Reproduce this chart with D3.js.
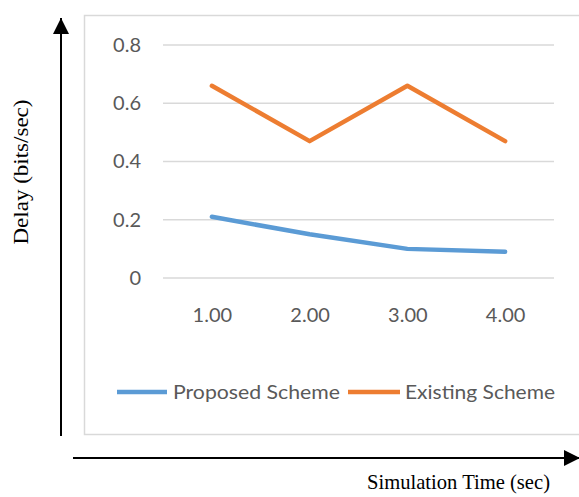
<!DOCTYPE html>
<html>
<head>
<meta charset="utf-8">
<script src="https://cdn.jsdelivr.net/npm/d3@7"></script>
<style>
  html, body { margin: 0; padding: 0; background: #fff; }
  svg { display: block; }
</style>
</head>
<body>
<svg id="chart" width="579" height="497"></svg>
<script>
// Delay over simulation time for the two schemes
const categories = ["1.00", "2.00", "3.00", "4.00"];
const proposed = [0.21, 0.15, 0.10, 0.09];
const existing = [0.66, 0.47, 0.66, 0.47];
const yTicks = [0, 0.2, 0.4, 0.6, 0.8];
const seriesNames = ["Proposed Scheme", "Existing Scheme"];
const seriesColors = ["#5B9BD5", "#ED7D31"];

const svg = d3.select("#chart");
const labelFont = "Lato, 'Open Sans', sans-serif";
const serif = "'Liberation Serif', 'DejaVu Serif', serif";

// Chart frame
svg.append("rect")
  .attr("x", 84.5).attr("y", 15.5)
  .attr("width", 520).attr("height", 419)
  .attr("fill", "#fff").attr("stroke", "#d9d9d9").attr("stroke-width", 1.5);

const plot = { left: 163, right: 554, top: 45, bottom: 278 };

const x = d3.scalePoint()
  .domain(categories)
  .range([plot.left, plot.right])
  .padding(0.5);

const y = d3.scaleLinear()
  .domain([0, 0.8])
  .range([plot.bottom, plot.top]);

// Horizontal gridlines
svg.append("g")
  .selectAll("line")
  .data(yTicks)
  .join("line")
  .attr("x1", plot.left).attr("x2", plot.right)
  .attr("y1", d => y(d)).attr("y2", d => y(d))
  .attr("stroke", "#d9d9d9").attr("stroke-width", 1.5);

// Y axis tick labels
const yAxis = svg.append("g")
  .attr("transform", `translate(${plot.left},0)`)
  .call(d3.axisLeft(y).tickValues(yTicks).tickSize(0).tickPadding(22)
    .tickFormat(d => d === 0 ? "0" : d3.format(".1f")(d)));
yAxis.select(".domain").remove();
yAxis.selectAll("text")
  .attr("fill", "#595959")
  .style("font-family", labelFont)
  .style("font-size", "20px");

// X axis tick labels
const xAxis = svg.append("g")
  .attr("transform", `translate(0,${plot.bottom})`)
  .call(d3.axisBottom(x).tickSize(0).tickPadding(30));
xAxis.select(".domain").remove();
xAxis.selectAll("text")
  .attr("fill", "#595959")
  .style("font-family", labelFont)
  .style("font-size", "20px");

// Series lines
const line = d3.line()
  .x((d, i) => x(categories[i]))
  .y(d => y(d));

[proposed, existing].forEach((vals, k) => {
  svg.append("path")
    .datum(vals)
    .attr("d", line)
    .attr("fill", "none")
    .attr("stroke", seriesColors[k])
    .attr("stroke-width", 4.5)
    .attr("stroke-linejoin", "round")
    .attr("stroke-linecap", "round");
});

// Legend
const legendY = 392;
const legendItems = [
  { x1: 117, x2: 167, tx: 173, w: 167 },
  { x1: 348, x2: 400, tx: 405, w: 150 }
];
legendItems.forEach((it, k) => {
  svg.append("line")
    .attr("x1", it.x1).attr("x2", it.x2)
    .attr("y1", legendY).attr("y2", legendY)
    .attr("stroke", seriesColors[k]).attr("stroke-width", 4.5);
  svg.append("text")
    .attr("x", it.tx).attr("y", legendY + 7)
    .attr("fill", "#595959")
    .attr("textLength", it.w)
    .attr("lengthAdjust", "spacingAndGlyphs")
    .style("font-family", labelFont)
    .style("font-size", "20px")
    .text(seriesNames[k]);
});

// Arrow-headed axes outside the frame
const defs = svg.append("defs");
defs.append("marker")
  .attr("id", "arrow")
  .attr("viewBox", "0 0 10 10")
  .attr("refX", 10).attr("refY", 5)
  .attr("markerWidth", 16).attr("markerHeight", 16)
  .attr("markerUnits", "userSpaceOnUse")
  .attr("orient", "auto")
  .append("path")
  .attr("d", "M0,0 L10,5 L0,10 Z")
  .attr("fill", "#000");

svg.append("line")
  .attr("x1", 61).attr("y1", 436)
  .attr("x2", 61).attr("y2", 18)
  .attr("stroke", "#000").attr("stroke-width", 2)
  .attr("marker-end", "url(#arrow)");

svg.append("line")
  .attr("x1", 73).attr("y1", 458)
  .attr("x2", 580).attr("y2", 458)
  .attr("stroke", "#000").attr("stroke-width", 2)
  .attr("marker-end", "url(#arrow)");

// Axis titles
svg.append("text")
  .attr("transform", "translate(28,172) rotate(-90)")
  .attr("text-anchor", "middle")
  .attr("textLength", 145)
  .attr("lengthAdjust", "spacingAndGlyphs")
  .style("font-family", serif)
  .style("font-size", "21px")
  .attr("fill", "#000")
  .text("Delay (bits/sec)");

svg.append("text")
  .attr("x", 367).attr("y", 489)
  .attr("textLength", 183)
  .attr("lengthAdjust", "spacingAndGlyphs")
  .style("font-family", serif)
  .style("font-size", "22px")
  .attr("fill", "#000")
  .text("Simulation Time (sec)");
</script>
</body>
</html>
